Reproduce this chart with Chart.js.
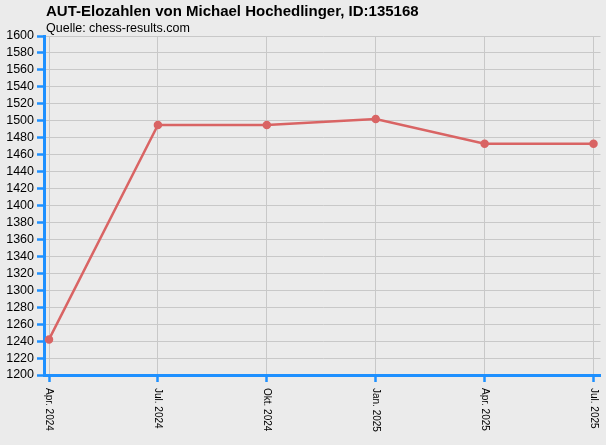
<!DOCTYPE html>
<html lang="de">
<head>
  <meta charset="UTF-8">
  <title>AUT-Elozahlen</title>
  <script src="https://cdn.jsdelivr.net/npm/chart.js"></script>
  <style>
    body { margin: 0; background: #ebebeb; }
    #wrap { width: 606px; height: 445px; }
  </style>
</head>
<body>
  <div id="wrap"><canvas id="myChart" width="606" height="445"></canvas></div>
  <script>
    // Daten
    const months = ['Apr. 2024', 'Jul. 2024', 'Okt. 2024', 'Jan. 2025', 'Apr. 2025', 'Jul. 2025'];
    const elo = [1242, 1495, 1495, 1502, 1473, 1473];
    const titleText = 'AUT-Elozahlen von Michael Hochedlinger, ID:135168';
    const subText = 'Quelle: chess-results.com';

    const blue = '#1e90ff';
    const font = '"Liberation Sans", Arial, sans-serif';

    // Titel und gedrehte x-Beschriftungen selbst zeichnen
    const extras = {
      id: 'extras',
      beforeDraw(chart) {
        const c = chart.ctx;
        c.save();
        c.fillStyle = '#ebebeb';
        c.fillRect(0, 0, chart.width, chart.height);
        c.restore();
      },
      afterDraw(chart) {
        const c = chart.ctx;
        const x = chart.scales.x;
        c.save();
        c.fillStyle = '#000';
        c.textBaseline = 'alphabetic';
        c.font = 'bold 15px ' + font;
        c.fillText(titleText, 46, 16);
        c.font = '12.5px ' + font;
        c.fillText(subText, 46, 32);
        c.font = '10px ' + font;
        c.textAlign = 'left';
        c.textBaseline = 'middle';
        months.forEach((m, i) => {
          c.save();
          c.translate(x.getPixelForValue(i), 388);
          c.rotate(Math.PI / 2);
          c.fillText(m, 0, 0);
          c.restore();
        });
        c.restore();
      }
    };

    new Chart(document.getElementById('myChart'), {
      type: 'line',
      data: {
        datasets: [{
          data: elo.map((v, i) => ({ x: i, y: v })),
          borderColor: '#d96464',
          backgroundColor: '#d96464',
          borderWidth: 2.5,
          pointRadius: 3,
          pointHoverRadius: 3,
          tension: 0
        }]
      },
      options: {
        responsive: false,
        animation: false,
        layout: { padding: { top: 36, right: 5, left: 0, bottom: 0 } },
        plugins: { legend: { display: false }, tooltip: { enabled: false } },
        scales: {
          x: {
            type: 'linear',
            min: -0.046,
            max: 5.064,
            afterBuildTicks: s => { s.ticks = months.map((_, i) => ({ value: i })); },
            afterFit: s => { s.height = 70; },
            ticks: { display: false },
            grid: { color: '#c8c8c8', lineWidth: 1, tickColor: blue, tickLength: 7, tickWidth: 2.5 },
            border: { color: blue, width: 3 }
          },
          y: {
            min: 1200,
            max: 1600,
            afterFit: s => { s.width = 44; },
            ticks: {
              stepSize: 20,
              autoSkip: false,
              color: '#000',
              padding: 3,
              font: { family: font, size: 12.5 },
              callback: v => String(v)
            },
            grid: { color: '#c8c8c8', lineWidth: 1, tickColor: blue, tickLength: 7, tickWidth: 2.5 },
            border: { color: blue, width: 3 }
          }
        }
      },
      plugins: [extras]
    });
  </script>
</body>
</html>
